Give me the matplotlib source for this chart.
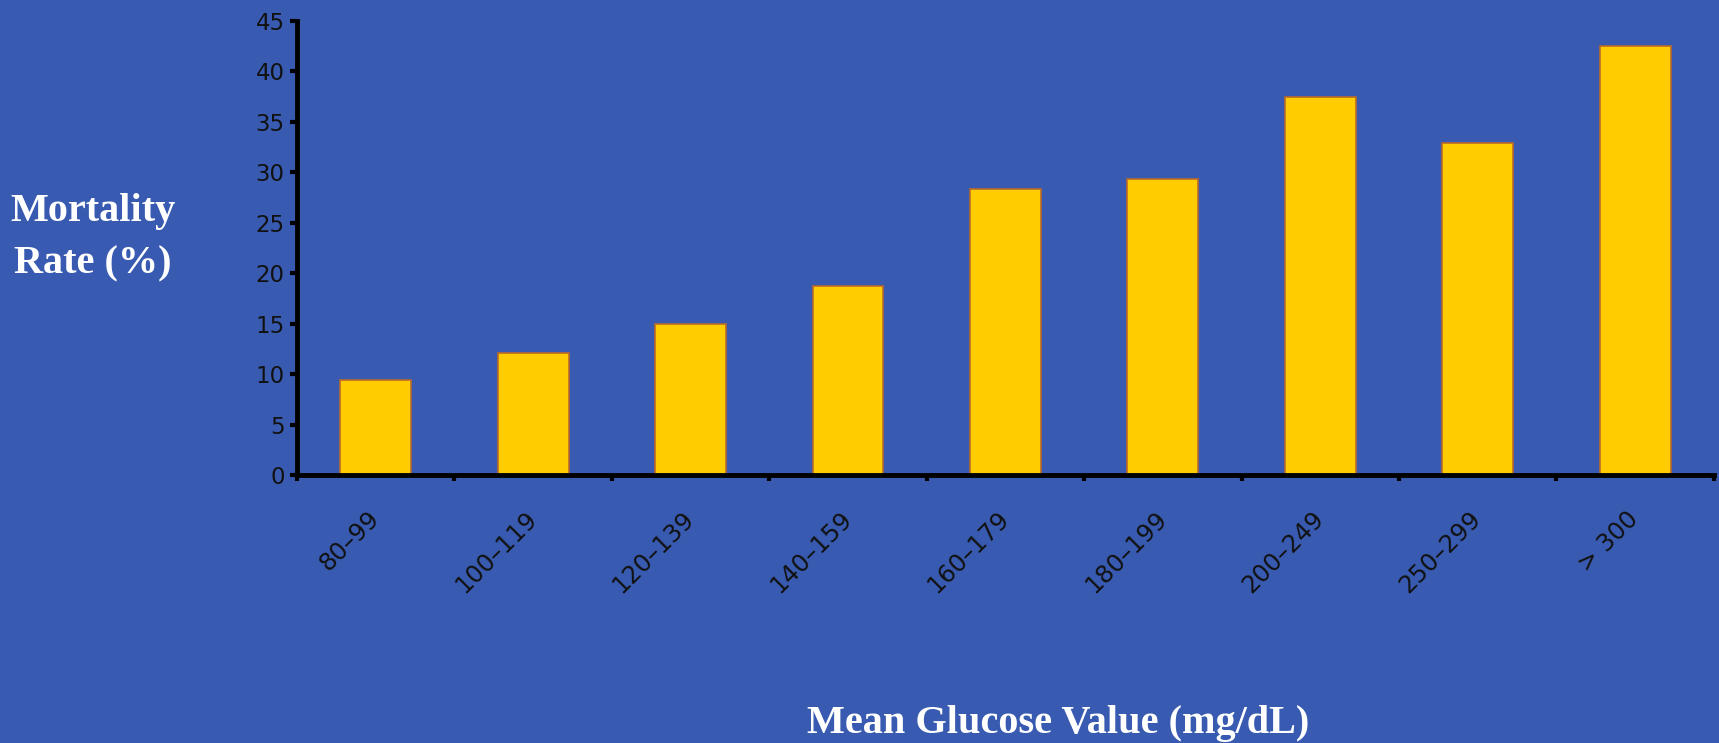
import matplotlib
matplotlib.use("Agg")
import matplotlib.pyplot as plt
import numpy as np

# mortality by mean glucose band
glucose_bands = ['80–99', '100–119', '120–139', '140–159', '160–179',
                 '180–199', '200–249', '250–299', '> 300']
mortality = [9.4, 12.1, 15.0, 18.7, 28.3, 29.3, 37.5, 32.9, 42.5]
y_ticks = [0, 5, 10, 15, 20, 25, 30, 35, 40, 45]

bg = '#385BB1'

fig = plt.figure(figsize=(17.19, 7.43), dpi=100, facecolor=bg)
ax = fig.add_axes([0.1728, 0.3607, 0.8242, 0.6113])
ax.set_facecolor(bg)

x = np.arange(len(glucose_bands))
ax.bar(x, mortality, width=0.45, color='#FFCC00', edgecolor='#B86A2A',
       linewidth=1.2, zorder=2)

ax.set_xlim(-0.5, len(glucose_bands) - 0.5)
ax.set_ylim(0, 45)

for side in ['top', 'right']:
    ax.spines[side].set_visible(False)
for side in ['left', 'bottom']:
    ax.spines[side].set_linewidth(3.5)
    ax.spines[side].set_color('black')
    ax.spines[side].set_capstyle('projecting')

ax.set_yticks(y_ticks)
ax.set_yticklabels([str(v) for v in y_ticks], fontsize=16.5, color='#111111')
ax.tick_params(axis='y', direction='out', length=5, width=3, pad=4)

# labels under bars, tick marks between bands
ax.set_xticks(x)
ax.set_xticklabels(glucose_bands, fontsize=17.5, color='#111111',
                   rotation=45, ha='right', va='center',
                   rotation_mode='anchor')
ax.tick_params(axis='x', which='major', length=0, pad=29)
ax.set_xticks(np.arange(-0.5, len(glucose_bands)), minor=True)
ax.tick_params(axis='x', which='minor', direction='out', length=4, width=3)

fig.text(0.054, 0.680, 'Mortality\nRate (%)', color='white', fontsize=29,
         fontweight='bold', family='Liberation Serif', ha='center',
         va='center', linespacing=1.55)
fig.text(0.6155, 0.026, 'Mean Glucose Value (mg/dL)', color='white',
         fontsize=29, fontweight='bold', family='Liberation Serif',
         ha='center', va='center')

fig.savefig('out.png', dpi=100, facecolor=bg)
